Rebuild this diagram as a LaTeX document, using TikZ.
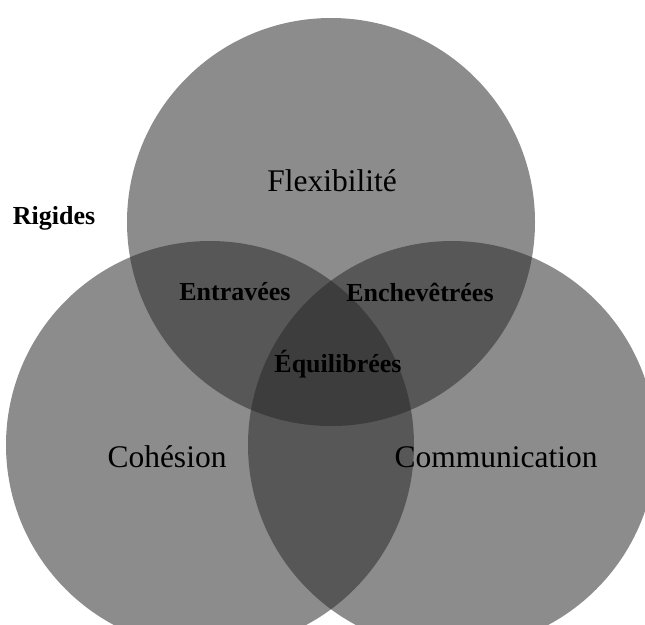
\documentclass[tikz,border=0pt]{standalone}
\usepackage{fontspec}
\setmainfont{Liberation Serif}
\usetikzlibrary{positioning}

\begin{document}
\begin{tikzpicture}[
    x=1pt, y=-1pt,
    one/.style={fill=black!45},
    two/.style={fill=black!66},
    three/.style={fill=black!76},
    setlabel/.style={inner sep=0pt, font=\fontsize{31.5}{36}\selectfont},
    typelabel/.style={inner sep=0pt, font=\fontsize{26}{30}\selectfont\bfseries}
]
\useasboundingbox (0,0) rectangle (645,624);
\clip (0,0) rectangle (645,624);
\def\vennrad{204pt}

% Circle centres: flexibility on top, cohesion and communication below.
\coordinate (cflex) at (331,222);
\coordinate (ccoh) at (210,445);
\coordinate (ccom) at (452,445);

% Single sets.
\fill[one] (cflex) circle[radius=\vennrad];
\fill[one] (ccoh) circle[radius=\vennrad];
\fill[one] (ccom) circle[radius=\vennrad];

% Pairwise overlaps, then the common part.
\begin{scope}
  \clip (ccoh) circle[radius=\vennrad];
  \fill[two] (ccom) circle[radius=\vennrad];
\end{scope}
\begin{scope}
  \clip (cflex) circle[radius=\vennrad];
  \fill[two] (ccoh) circle[radius=\vennrad];
  \fill[two] (ccom) circle[radius=\vennrad];
  \clip (ccoh) circle[radius=\vennrad];
  \fill[three] (ccom) circle[radius=\vennrad];
\end{scope}

% Labels.
\node[setlabel] (flex) at (332,181) {Flexibilité};
\node[setlabel] (coh) at (167,457) {Cohésion};
\node[setlabel] (com) at (496,457) {Communication};
\node[typelabel] (rig) at (54,218) {Rigides};
\node[typelabel] (entr) at (235,292) {Entravées};
\node[typelabel] (ench) at (420,292) {Enchevêtrées};
\node[typelabel] (equi) at (338,364) {Équilibrées};

\end{tikzpicture}
\end{document}
